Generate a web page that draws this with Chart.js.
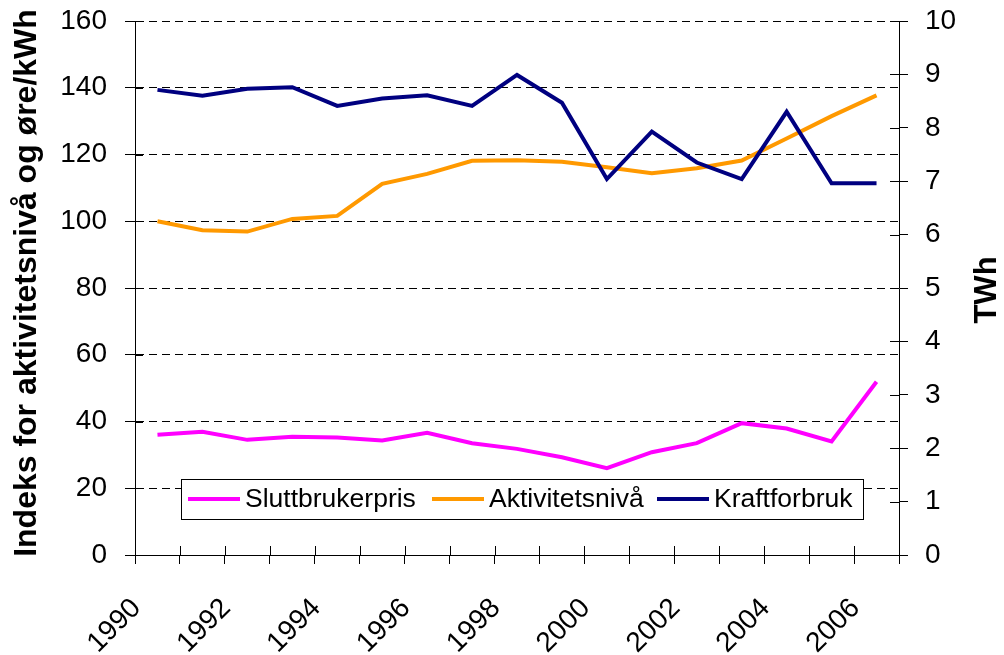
<!DOCTYPE html>
<html>
<head>
<meta charset="utf-8">
<script src="https://cdn.jsdelivr.net/npm/chart.js@4.4.0/dist/chart.umd.min.js"></script>
<style>
  body { margin: 0; background: #fff; }
  canvas { display: block; }
</style>
</head>
<body>
<canvas id="chart" width="1004" height="655"></canvas>
<script>
// Data
const years = ['1990', '1991', '1992', '1993', '1994', '1995', '1996', '1997', '1998',
               '1999', '2000', '2001', '2002', '2003', '2004', '2005', '2006'];
const sluttbrukerpris = [36.0, 36.9, 34.5, 35.4, 35.2, 34.3, 36.6, 33.5, 31.8,
                         29.3, 26.0, 30.8, 33.5, 39.5, 37.9, 34.0, 51.9];
const aktivitetsniva = [100, 97.3, 96.9, 100.7, 101.6, 111.2, 114.2, 118.1, 118.3,
                        117.8, 116.2, 114.4, 115.9, 118.2, 124.8, 131.5, 137.7];
const kraftforbruk = [8.71, 8.60, 8.73, 8.76, 8.41, 8.55, 8.61, 8.41, 8.99,
                      8.47, 7.04, 7.93, 7.35, 7.04, 8.30, 6.96, 6.96];
const leftTicks = [0, 20, 40, 60, 80, 100, 120, 140, 160];
const rightTicks = [0, 1, 2, 3, 4, 5, 6, 7, 8, 9, 10];

const FONT = '"Liberation Sans", Arial, sans-serif';

// Tick marks that cross the axes (inner half), legend box, axis titles
const extras = {
    id: 'extras',
    afterDraw(chart) {
        const ctx = chart.ctx;
        const area = chart.chartArea;
        const x = chart.scales.x, y = chart.scales.y, y1 = chart.scales.y1;
        ctx.save();
        ctx.strokeStyle = '#000';
        ctx.lineWidth = 1;
        ctx.beginPath();
        for (let i = 0; i <= years.length; i++) {
            const px = Math.round(x.getPixelForValue(i - 0.5)) + 0.5;
            ctx.moveTo(px, area.bottom);
            ctx.lineTo(px, area.bottom - 9);
        }
        leftTicks.forEach(v => {
            const py = Math.round(y.getPixelForValue(v)) + 0.5;
            ctx.moveTo(area.left, py);
            ctx.lineTo(area.left + 8, py);
        });
        rightTicks.forEach(v => {
            const py = Math.round(y1.getPixelForValue(v)) + 0.5;
            ctx.moveTo(area.right, py);
            ctx.lineTo(area.right - 9, py);
        });
        ctx.stroke();

        // legend
        const lx = area.left + 46, ly = area.top + 458, lw = 682, lh = 40;
        ctx.fillStyle = '#fff';
        ctx.fillRect(lx, ly, lw, lh);
        ctx.strokeRect(lx + 0.5, ly + 0.5, lw, lh);
        ctx.font = '26.5px ' + FONT;
        ctx.textBaseline = 'middle';
        ctx.textAlign = 'left';
        const cy = ly + lh / 2;
        const itemX = [7, 251, 476];
        [0, 1, 2].forEach(i => {
            const ds = chart.data.datasets[i];
            const cx = lx + itemX[i];
            ctx.strokeStyle = ds.borderColor;
            ctx.lineWidth = 4;
            ctx.beginPath();
            ctx.moveTo(cx, cy);
            ctx.lineTo(cx + 52, cy);
            ctx.stroke();
            ctx.fillStyle = '#000';
            ctx.fillText(ds.label, cx + 57, cy + 1);
        });

        // axis titles
        ctx.textAlign = 'center';
        ctx.save();
        ctx.translate(27, 283);
        ctx.rotate(-Math.PI / 2);
        ctx.font = 'bold 32px ' + FONT;
        ctx.fillText('Indeks for aktivitetsnivå og øre/kWh', 0, 0);
        ctx.restore();

        ctx.translate(987, 290);
        ctx.rotate(-Math.PI / 2);
        ctx.font = 'bold 31px ' + FONT;
        ctx.fillText('TWh', 0, 0);
        ctx.restore();
    }
};

new Chart(document.getElementById('chart'), {
    type: 'line',
    data: {
        labels: years,
        datasets: [
            {
                label: 'Sluttbrukerpris',
                data: sluttbrukerpris,
                yAxisID: 'y',
                borderColor: '#FF00FF',
                order: 1
            },
            {
                label: 'Aktivitetsnivå',
                data: aktivitetsniva,
                yAxisID: 'y',
                borderColor: '#FF9900',
                order: 2
            },
            {
                label: 'Kraftforbruk',
                data: kraftforbruk,
                yAxisID: 'y1',
                borderColor: '#000080',
                order: 0
            }
        ]
    },
    options: {
        responsive: false,
        animation: false,
        layout: { padding: { top: 21, left: 0, right: 0, bottom: 0 } },
        elements: {
            line: { borderWidth: 4, tension: 0, fill: false, borderJoinStyle: 'miter' },
            point: { radius: 0, hoverRadius: 0 }
        },
        plugins: {
            legend: { display: false },
            tooltip: { enabled: false }
        },
        scales: {
            x: {
                offset: true,
                grid: {
                    offset: true,
                    drawOnChartArea: false,
                    tickLength: 9,
                    tickColor: '#000'
                },
                border: { color: '#000', width: 1 },
                ticks: {
                    autoSkip: false,
                    maxRotation: 45,
                    minRotation: 45,
                    padding: 28,
                    labelOffset: -21,
                    color: '#000',
                    font: { family: FONT, size: 28 },
                    callback: function(value, index) {
                        return index % 2 === 0 ? years[index] : '';
                    }
                },
                afterFit: s => {
                    s.height = 100;
                    s.paddingLeft = 0;
                    s.paddingRight = 0;
                }
            },
            y: {
                position: 'left',
                min: 0,
                max: 160,
                grid: {
                    color: '#000',
                    tickColor: '#000',
                    tickLength: 10,
                    tickBorderDash: []
                },
                border: { color: '#000', width: 1, dash: [8, 5] },
                ticks: {
                    stepSize: 20,
                    padding: 18,
                    color: '#000',
                    font: { family: FONT, size: 28 }
                },
                afterFit: s => {
                    s.width = 135;
                    s.paddingTop = 0;
                    s.paddingBottom = 0;
                }
            },
            y1: {
                position: 'right',
                min: 0,
                max: 10,
                grid: {
                    drawOnChartArea: false,
                    tickColor: '#000',
                    tickLength: 9
                },
                border: { color: '#000', width: 1 },
                ticks: {
                    stepSize: 1,
                    padding: 17,
                    color: '#000',
                    font: { family: FONT, size: 28 }
                },
                afterFit: s => {
                    s.width = 105;
                    s.paddingTop = 0;
                    s.paddingBottom = 0;
                }
            }
        }
    },
    plugins: [extras]
});
</script>
</body>
</html>
